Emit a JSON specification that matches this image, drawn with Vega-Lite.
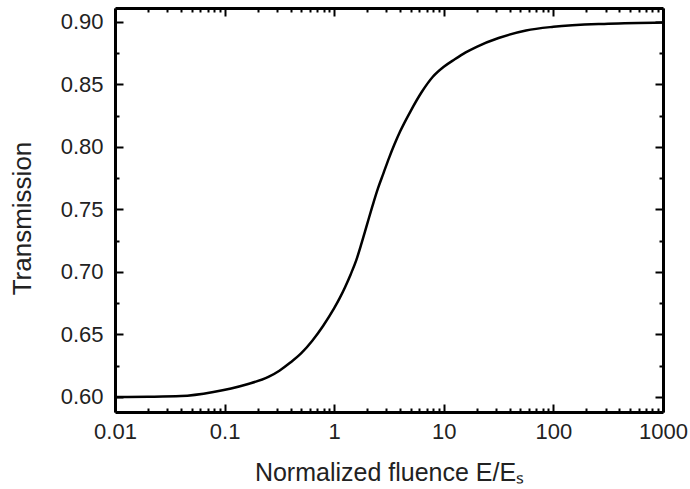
{
  "$schema": "https://vega.github.io/schema/vega-lite/v6.json",
  "width": 548,
  "height": 404,
  "autosize": {"type": "none"},
  "padding": {"left": 115, "top": 8, "right": 27, "bottom": 77},
  "background": "white",
  "config": {
    "view": {"stroke": null},
    "axis": {
      "labelFont": "Liberation Sans",
      "titleFont": "Liberation Sans",
      "labelColor": "#222222",
      "titleColor": "#222222",
      "labelFontSize": 22,
      "titleFontSize": 25,
      "titleFontWeight": "normal",
      "domainColor": "black",
      "domainWidth": 3,
      "tickColor": "black",
      "tickWidth": 2,
      "grid": false,
      "labelFlush": false,
      "labelOverlap": false
    }
  },
  "data": {
    "values": [
      {"F": 0.01, "T": 0.6000},
      {"F": 0.02, "T": 0.6002},
      {"F": 0.04, "T": 0.6007},
      {"F": 0.079, "T": 0.6040},
      {"F": 0.158, "T": 0.6100},
      {"F": 0.251, "T": 0.6160},
      {"F": 0.316, "T": 0.6210},
      {"F": 0.398, "T": 0.6275},
      {"F": 0.501, "T": 0.6350},
      {"F": 0.631, "T": 0.6450},
      {"F": 0.794, "T": 0.6570},
      {"F": 1.0, "T": 0.6710},
      {"F": 1.122, "T": 0.6790},
      {"F": 1.259, "T": 0.6880},
      {"F": 1.413, "T": 0.6980},
      {"F": 1.585, "T": 0.7090},
      {"F": 1.778, "T": 0.7230},
      {"F": 1.995, "T": 0.7380},
      {"F": 2.239, "T": 0.7530},
      {"F": 2.512, "T": 0.7670},
      {"F": 2.818, "T": 0.7790},
      {"F": 3.162, "T": 0.7910},
      {"F": 3.548, "T": 0.8020},
      {"F": 3.981, "T": 0.8120},
      {"F": 5.012, "T": 0.8290},
      {"F": 6.31, "T": 0.8440},
      {"F": 7.943, "T": 0.8560},
      {"F": 10, "T": 0.8640},
      {"F": 12.59, "T": 0.8700},
      {"F": 15.85, "T": 0.8755},
      {"F": 19.95, "T": 0.8800},
      {"F": 31.62, "T": 0.8870},
      {"F": 56.23, "T": 0.8930},
      {"F": 100, "T": 0.8960},
      {"F": 316.2, "T": 0.8985},
      {"F": 1000, "T": 0.8995}
    ]
  },
  "layer": [
    {
      "mark": {"type": "line", "color": "black", "strokeWidth": 2.5, "interpolate": "monotone"},
      "encoding": {
        "x": {
          "field": "F", "type": "quantitative",
          "scale": {"type": "log", "domain": [0.01, 1000], "nice": false},
          "axis": {
            "orient": "bottom",
            "title": "Normalized fluence E/Eₛ",
            "titlePadding": 14,
            "labelPadding": 17,
            "values": [0.01,0.02,0.03,0.04,0.05,0.06,0.07,0.08,0.09,0.1,0.2,0.3,0.4,0.5,0.6,0.7,0.8,0.9,1,2,3,4,5,6,7,8,9,10,20,30,40,50,60,70,80,90,100,200,300,400,500,600,700,800,900,1000],
            "tickSize": {"condition": {"test": "abs(log(datum.value)/LN10 - round(log(datum.value)/LN10)) < 0.001", "value": -8}, "value": -4},
            "labelExpr": "abs(log(datum.value)/LN10 - round(log(datum.value)/LN10)) < 0.001 ? format(datum.value, '~g') : ''"
          }
        },
        "y": {
          "field": "T", "type": "quantitative",
          "scale": {"domain": [0.588, 0.911], "nice": false, "zero": false},
          "axis": {
            "orient": "left",
            "title": "Transmission",
            "titleFontSize": 26,
            "titlePadding": 25,
            "titleY": 210,
            "labelPadding": 20,
            "values": [0.6,0.625,0.65,0.675,0.7,0.725,0.75,0.775,0.8,0.825,0.85,0.875,0.9],
            "tickSize": {"condition": {"test": "abs(datum.value*20 - round(datum.value*20)) < 0.001", "value": -8}, "value": -4},
            "labelExpr": "abs(datum.value*20 - round(datum.value*20)) < 0.001 ? format(datum.value, '.2f') : ''"
          }
        }
      }
    },
    {
      "mark": {"type": "line", "opacity": 0, "interpolate": "monotone"},
      "encoding": {
        "x": {
          "field": "F", "type": "quantitative",
          "scale": {"type": "log", "domain": [0.01, 1000], "nice": false},
          "axis": {
            "orient": "top",
            "title": null,
            "labels": false,
            "values": [0.01,0.02,0.03,0.04,0.05,0.06,0.07,0.08,0.09,0.1,0.2,0.3,0.4,0.5,0.6,0.7,0.8,0.9,1,2,3,4,5,6,7,8,9,10,20,30,40,50,60,70,80,90,100,200,300,400,500,600,700,800,900,1000],
            "tickSize": {"condition": {"test": "abs(log(datum.value)/LN10 - round(log(datum.value)/LN10)) < 0.001", "value": -8}, "value": -4}
          }
        },
        "y": {
          "field": "T", "type": "quantitative",
          "scale": {"domain": [0.588, 0.911], "nice": false, "zero": false},
          "axis": {
            "orient": "right",
            "title": null,
            "labels": false,
            "values": [0.6,0.625,0.65,0.675,0.7,0.725,0.75,0.775,0.8,0.825,0.85,0.875,0.9],
            "tickSize": {"condition": {"test": "abs(datum.value*20 - round(datum.value*20)) < 0.001", "value": -8}, "value": -4}
          }
        }
      }
    }
  ],
  "resolve": {"axis": {"x": "independent", "y": "independent"}}
}
